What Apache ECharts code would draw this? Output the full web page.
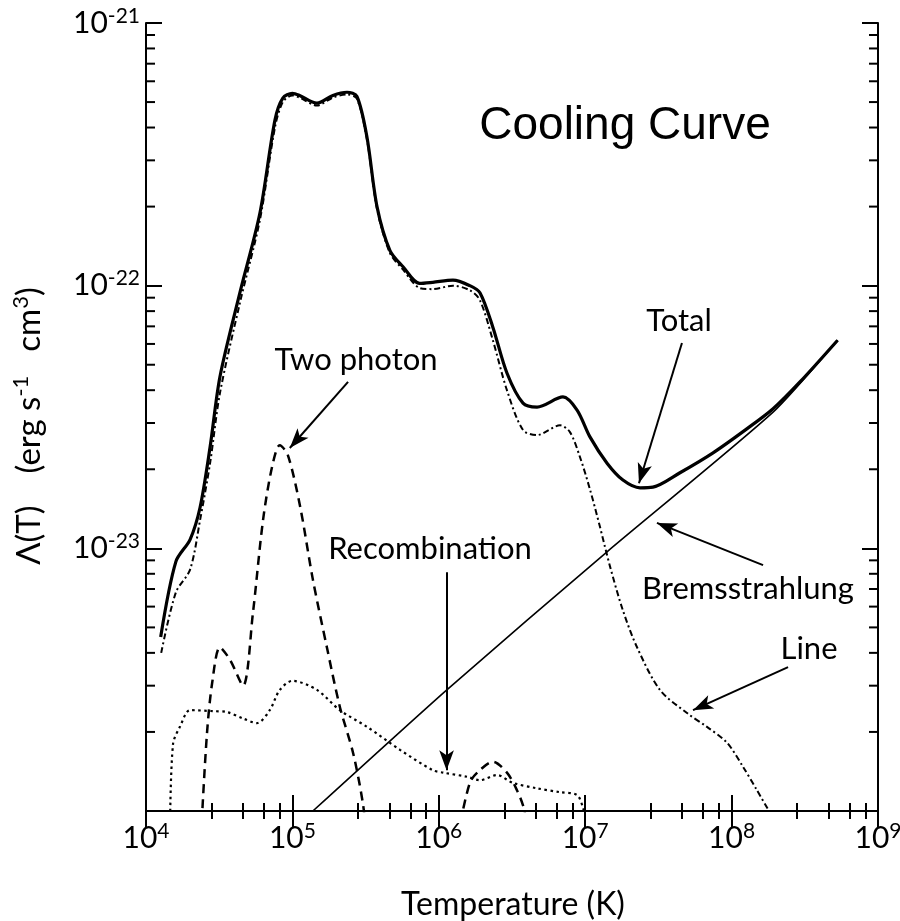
<!DOCTYPE html>
<html>
<head>
<meta charset="utf-8">
<script src="https://cdn.jsdelivr.net/npm/echarts@6/dist/echarts.min.js"></script>
<style>html,body{margin:0;padding:0;background:#fff}#c{width:900px;height:921px}</style>
</head>
<body>
<div id="c"></div>
<script>
// ---- data: [Temperature K, Lambda erg s^-1 cm^3] ----
var totalCurve = [
  [1.26e4,4.6e-24],[1.6e4,8.9e-24],[2.0e4,1.08e-23],[2.34e4,1.43e-23],[2.74e4,2.43e-23],
  [3.2e4,4.5e-23],[4.38e4,9.4e-23],[6.0e4,1.89e-22],[7.6e4,4.27e-22],[8.6e4,5.18e-22],
  [1.0e5,5.4e-22],[1.12e5,5.3e-22],[1.47e5,4.95e-22],[1.89e5,5.3e-22],[2.36e5,5.45e-22],
  [2.76e5,5.25e-22],[3.23e5,3.68e-22],[3.79e5,1.99e-22],[4.64e5,1.36e-22],[5.7e5,1.18e-22],
  [7.4e5,1.02e-22],[9.1e5,1.03e-22],[1.25e6,1.05e-22],[1.63e6,1.0e-22],[1.91e6,9.4e-23],
  [2.34e6,6.95e-23],[2.92e6,4.65e-23],[3.76e6,3.57e-23],[4.69e6,3.45e-23],[7.05e6,3.77e-23],
  [8.8e6,3.36e-23],[1.08e7,2.65e-23],[1.41e7,2.11e-23],[1.81e7,1.82e-23],[2.37e7,1.70e-23],
  [2.9e7,1.71e-23],[4.44e7,1.94e-23],[7.47e7,2.31e-23],[1.27e8,2.85e-23],[1.92e8,3.4e-23],
  [2.93e8,4.3e-23],[5.3e8,6.2e-23]
];
var lineCurve = [
  [1.27e4,4.0e-24],[1.6e4,6.8e-24],[2.0e4,8.3e-24],[2.34e4,1.28e-23],[2.74e4,2.11e-23],
  [3.2e4,3.9e-23],[4.38e4,8.6e-23],[6.0e4,1.78e-22],[7.6e4,4.0e-22],[8.6e4,5.0e-22],
  [1.0e5,5.3e-22],[1.12e5,5.2e-22],[1.47e5,4.85e-22],[1.89e5,5.2e-22],[2.36e5,5.35e-22],
  [2.76e5,5.15e-22],[3.23e5,3.6e-22],[3.79e5,1.95e-22],[4.64e5,1.33e-22],[5.7e5,1.15e-22],
  [7.4e5,9.8e-23],[9.1e5,9.7e-23],[1.25e6,1.0e-22],[1.63e6,9.6e-23],[1.91e6,8.8e-23],
  [2.34e6,6.2e-23],[2.92e6,4.0e-23],[3.76e6,2.82e-23],[4.69e6,2.70e-23],[6.73e6,2.94e-23],
  [7.87e6,2.77e-23],[9.2e6,2.23e-23],[1.08e7,1.67e-23],[1.26e7,1.21e-23],[1.48e7,8.5e-24],
  [1.81e7,5.8e-24],[2.26e7,4.2e-24],[3.24e7,2.89e-24],[4.96e7,2.36e-24],[6.79e7,2.09e-24],
  [9.3e7,1.82e-24],[1.2e8,1.47e-24],[1.49e8,1.2e-24],[1.8e8,1.0e-24]
];
var bremsCurve = [
  [1.38e5,1.0e-24],[1.14e6,2.9e-24],[1.41e7,9.7e-24],[1.92e8,3.3e-23],[5.3e8,6.2e-23]
];
var recombCurve = [
  [1.46e4,9e-25],[1.53e4,1.8e-24],[1.71e4,2.1e-24],[2.0e4,2.42e-24],[2.87e4,2.4e-24],
  [3.57e4,2.38e-24],[4.6e4,2.25e-24],[5.73e4,2.16e-24],[7.0e4,2.42e-24],[8.2e4,2.89e-24],
  [1.0e5,3.13e-24],[1.47e5,2.89e-24],[2.11e5,2.42e-24],[3.24e5,2.09e-24],[5.43e5,1.71e-24],
  [9.1e5,1.43e-24],[1.07e6,1.4e-24],[1.56e6,1.35e-24],[1.91e6,1.31e-24],[2.5e6,1.37e-24],
  [3.2e6,1.28e-24],[4.69e6,1.22e-24],[6.7e6,1.18e-24],[8.8e6,1.15e-24],[9.7e6,1.02e-24],[1.02e7,9e-25]
];
var twoPhotonLow = [
  [2.4e4,9e-25],[2.61e4,1.98e-24],[2.83e4,3.07e-24],[3.2e4,4.2e-24],[3.75e4,3.76e-24],
  [4.6e4,3.0e-24],[5.38e4,5.7e-24],[6.3e4,1.28e-23],[7.26e4,2.04e-23],[8.2e4,2.47e-23],
  [9.3e4,2.27e-23],[1.13e5,1.44e-23],[1.38e5,7.6e-24],[1.72e5,4.2e-24],[2.11e5,2.49e-24],
  [2.6e5,1.66e-24],[3.03e5,1.07e-24],[3.2e5,8e-25]
];
var twoPhotonHigh = [
  [1.4e6,9e-25],[1.63e6,1.28e-24],[1.83e6,1.4e-24],[2.34e6,1.54e-24],[2.92e6,1.4e-24],
  [3.42e6,1.2e-24],[3.76e6,1.05e-24],[4.0e6,9e-25]
];
// annotation arrows: [from, to] in data coordinates
var arrowTwoPhoton = [[2.4e5,4.3e-23],[9.6e4,2.41e-23]];
var arrowTotal     = [[4.58e7,6.05e-23],[2.33e7,1.77e-23]];
var arrowBrems     = [[1.64e8,8.63e-24],[3.09e7,1.25e-23]];
var arrowRecomb    = [[1.13e6,8.1e-24],[1.13e6,1.43e-24]];
var arrowLine      = [[2.43e8,3.53e-24],[5.45e7,2.42e-24]];

var xMin = 1e4, xMax = 1e9, yMin = 1e-24, yMax = 1e-21;
// minor tick positions on the y axis (2..9 within each decade)
var minorY = [];
for (var e = -24; e < -21; e++) for (var k = 2; k <= 9; k++) minorY.push([xMin, k * Math.pow(10, e)]);

var FONT = 'Lato';
var supRich = {
  b: {fontSize: 30, fontFamily: FONT, color: '#000'},
  s: {fontSize: 21, fontFamily: FONT, color: '#000', padding: [0, 0, 14, 0]}
};
function powLabel(v) {
  if (!(v > 0) || !isFinite(v)) return '';
  var p = Math.round(Math.log10(v));
  if (!isFinite(p)) return '';
  return '{b|10}{s|' + p + '}';
}

var chart = echarts.init(document.getElementById('c'), null, {renderer: 'canvas'});
var axisLineStyle = {color: '#000', width: 2};
var tickStyle = {show: true, inside: true, length: 16, lineStyle: {color: '#000', width: 2}};
var minorStyle = {show: true, length: 8, lineStyle: {color: '#000', width: 2}};

function arrowPair(a) { return [{coord: a[0]}, {coord: a[1]}]; }

var option = {
  animation: false,
  backgroundColor: '#fff',
  grid: {left: 146, right: 22, top: 23, bottom: 110, containLabel: false, outerBoundsMode: 'none'},
  xAxis: [
    {type: 'log', logBase: 10, min: xMin, max: xMax, position: 'bottom',
     axisLine: {lineStyle: axisLineStyle}, splitLine: {show: false}, minorSplitLine: {show: false},
     axisTick: tickStyle, minorTick: minorStyle,
     axisLabel: {margin: 10, formatter: powLabel, rich: supRich}},
    {type: 'log', logBase: 10, min: xMin, max: xMax, position: 'top',
     axisLine: {lineStyle: axisLineStyle}, splitLine: {show: false}, minorSplitLine: {show: false},
     axisTick: tickStyle, minorTick: minorStyle,
     axisLabel: {show: false}}
  ],
  yAxis: [
    {type: 'log', logBase: 10, min: yMin, max: yMax, position: 'left',
     axisLine: {show: true, lineStyle: axisLineStyle}, splitLine: {show: false}, minorSplitLine: {show: false},
     axisTick: tickStyle, minorTick: {show: false},
     axisLabel: {margin: 6, formatter: powLabel, rich: supRich}},
    {type: 'log', logBase: 10, min: yMin, max: yMax, position: 'right',
     axisLine: {show: true, lineStyle: axisLineStyle}, splitLine: {show: false}, minorSplitLine: {show: false},
     axisTick: tickStyle, minorTick: {show: false},
     axisLabel: {show: false}}
  ],
  series: [
    {name: 'Total', type: 'line', data: totalCurve, showSymbol: false, smooth: 0.3,
     lineStyle: {color: '#000', width: 3.2}, z: 5},
    {name: 'Line', type: 'line', data: lineCurve, showSymbol: false, smooth: 0.3,
     lineStyle: {color: '#000', width: 2, type: [6, 3, 2, 3]}, z: 4},
    {name: 'Bremsstrahlung', type: 'line', data: bremsCurve, showSymbol: false, smooth: 0.2,
     lineStyle: {color: '#000', width: 1.6}, z: 3,
     markLine: {silent: true, symbol: ['none', 'arrow'], symbolSize: [11, 20],
       label: {show: false}, lineStyle: {color: '#000', width: 2, type: 'solid'},
       emphasis: {disabled: true},
       data: [arrowPair(arrowTwoPhoton), arrowPair(arrowTotal), arrowPair(arrowBrems),
              arrowPair(arrowRecomb), arrowPair(arrowLine)]}},
    {name: 'Recombination', type: 'line', data: recombCurve, showSymbol: false, smooth: 0.3,
     lineStyle: {color: '#000', width: 2.2, type: [2.5, 3.5]}, z: 3},
    {name: 'Two photon', type: 'line', data: twoPhotonLow, showSymbol: false, smooth: 0.3,
     lineStyle: {color: '#000', width: 2.5, type: [9, 6]}, z: 3},
    {name: 'Two photon 2', type: 'line', data: twoPhotonHigh, showSymbol: false, smooth: 0.3,
     lineStyle: {color: '#000', width: 2.5, type: [9, 6]}, z: 3},
    {type: 'custom', data: minorY, silent: true, clip: false, z: 6,
     renderItem: function (params, api) {
       var y = api.value(1);
       var l = api.coord([xMin, y]), r = api.coord([xMax, y]);
       return {type: 'group', children: [
         {type: 'line', shape: {x1: l[0], y1: l[1], x2: l[0] + 9, y2: l[1]}, style: {stroke: '#000', lineWidth: 2}},
         {type: 'line', shape: {x1: r[0], y1: r[1], x2: r[0] - 9, y2: r[1]}, style: {stroke: '#000', lineWidth: 2}}
       ]};
     }}
  ],
  graphic: [
    {type: 'text', x: 625, y: 126, style: {text: 'Cooling Curve', fontSize: 46, fontFamily: 'Liberation Sans', fill: '#000', align: 'center', verticalAlign: 'middle'}},
    {type: 'text', x: 356, y: 360, style: {text: 'Two photon', fontSize: 31, fontFamily: FONT, fill: '#000', align: 'center', verticalAlign: 'middle'}},
    {type: 'text', x: 430, y: 549, style: {text: 'Recombination', fontSize: 31, fontFamily: FONT, fill: '#000', align: 'center', verticalAlign: 'middle'}},
    {type: 'text', x: 679, y: 321, style: {text: 'Total', fontSize: 31, fontFamily: FONT, fill: '#000', align: 'center', verticalAlign: 'middle'}},
    {type: 'text', x: 748, y: 589, style: {text: 'Bremsstrahlung', fontSize: 31, fontFamily: FONT, fill: '#000', align: 'center', verticalAlign: 'middle'}},
    {type: 'text', x: 809, y: 649, style: {text: 'Line', fontSize: 31, fontFamily: FONT, fill: '#000', align: 'center', verticalAlign: 'middle'}},
    {type: 'text', x: 513, y: 905, style: {text: 'Temperature (K)', fontSize: 32, fontFamily: FONT, fill: '#000', align: 'center', verticalAlign: 'middle'}},
    {type: 'text', x: 29, y: 426, rotation: Math.PI / 2,
     style: {text: '{n|Λ(T)}{g|(erg s}{s|-1}{h|cm}{s|3}{n|)}', align: 'center', verticalAlign: 'middle',
       rich: {n: {fontSize: 33, fontFamily: FONT, fill: '#000'},
              g: {fontSize: 33, fontFamily: FONT, fill: '#000', padding: [0, 0, 0, 32]},
              h: {fontSize: 33, fontFamily: FONT, fill: '#000', padding: [0, 0, 0, 24]},
              s: {fontSize: 22, fontFamily: FONT, fill: '#000', padding: [0, 0, 16, 0]}}}}
  ]
};
chart.setOption(option);
</script>
</body>
</html>
